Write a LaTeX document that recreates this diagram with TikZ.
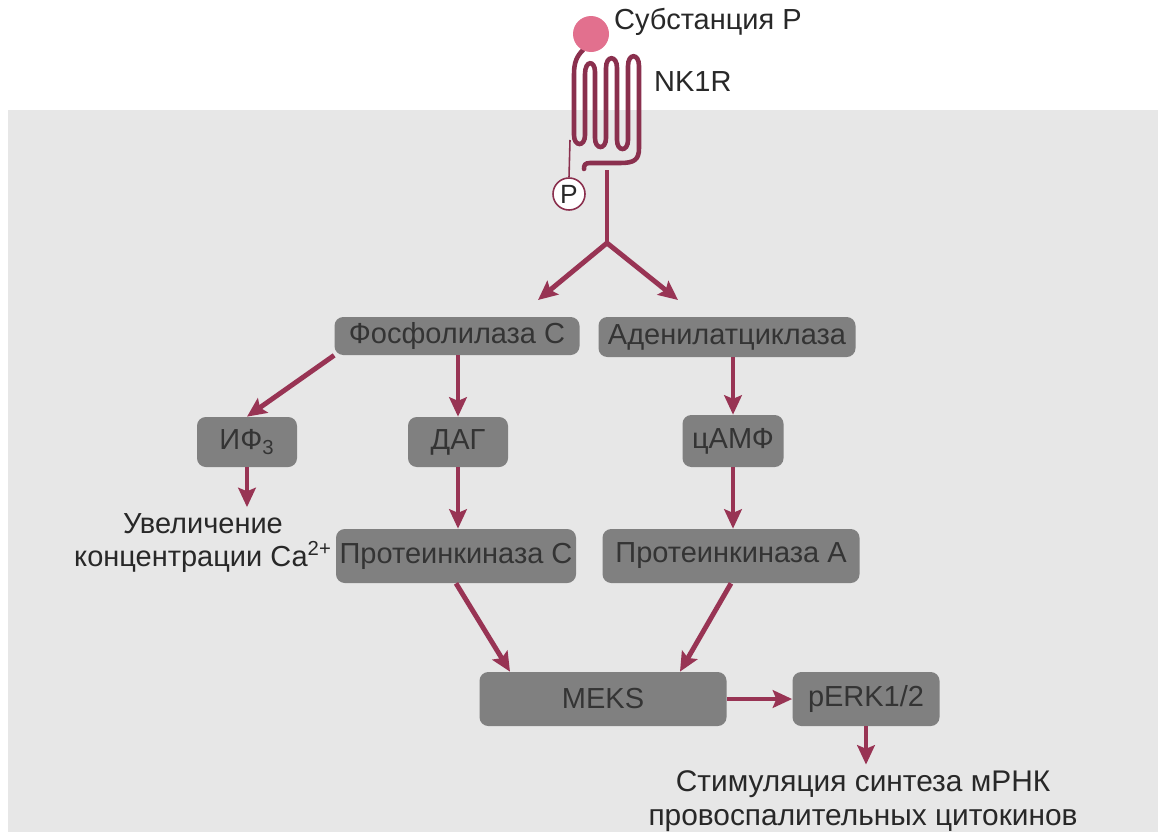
\documentclass[tikz,border=0pt]{standalone}
\usepackage{fontspec}
\setmainfont{Liberation Sans}
\usepackage{tikz}
\usetikzlibrary{arrows.meta, positioning, calc}
\definecolor{panelgray}{RGB}{231, 231, 231}
\definecolor{boxgray}{RGB}{128, 128, 128}
\definecolor{boxtext}{RGB}{52, 52, 52}
\definecolor{signalred}{RGB}{152, 52, 84}
\definecolor{receptorred}{RGB}{138, 48, 78}
\definecolor{ligandpink}{RGB}{226, 112, 142}
\definecolor{labeltext}{RGB}{40, 40, 40}

\begin{document}
\begin{tikzpicture}[x=0.02cm, y=-0.02cm,
    box/.style={fill=boxgray, text=boxtext, rounded corners=5pt, inner sep=0pt,
        font=\fontsize{16.5}{19}\selectfont},
    arr/.style={signalred, line width=2.8pt, -{Stealth[length=11pt, width=10pt, inset=2pt]}},
    lbl/.style={text=labeltext, align=center, font=\fontsize{17}{19}\selectfont}]
    \useasboundingbox (0,0) rectangle (1158,832);

    % Cytoplasm panel
    \fill[panelgray] (8,110) rectangle (1158,832);

    % NK1 receptor with seven membrane loops
    \draw[receptorred, line width=2.6pt, line cap=round]
        (583,50) .. controls (577,56) and (574,62) .. (574,74) -- (574,135)
        .. controls (574,147) and (585,147) .. (585,135) -- (585,74)
        .. controls (585,60) and (595,60) .. (595,72) -- (595,138)
        .. controls (595,150) and (606,150) .. (606,138) -- (606,68)
        .. controls (606,55) and (617,55) .. (617,68) -- (617,140)
        .. controls (617,152) and (628,152) .. (628,140) -- (628,66)
        .. controls (628,53) and (639,53) .. (639,66) -- (639,148)
        .. controls (639,160) and (634,163) .. (620,163) -- (590,163)
        .. controls (585,163) and (584,165) .. (584,169);
    \fill[ligandpink] (591,34) circle (18);
    \node[labeltext, anchor=west, font=\fontsize{16.5}{19}\selectfont] (sp) at (608,22) {Субстанция Р};
    \node[labeltext, anchor=west, font=\fontsize{16.5}{19}\selectfont] (nk1r) at (648,82) {NK1R};

    % Phosphorylation site
    \node[draw=receptorred, fill=white, circle, line width=0.9pt, minimum size=32*0.02cm, inner sep=0pt,
        text=labeltext, font=\fontsize{15}{17}\selectfont] (pho) at (569,194) {P};
    \coordinate (tm1) at (570,140);
    \draw[receptorred, line width=0.9pt] (tm1) -- (pho.north);

    % Signal split
    \coordinate (trunk) at (607,170);
    \coordinate (fork) at (607,243);
    \coordinate (left) at (538,300);
    \coordinate (right) at (678,300);
    \draw[signalred, line width=2.8pt] (trunk) -- (fork);
    \draw[arr] (fork) -- (left);
    \draw[arr] (fork) -- (right);

    % Enzymes and messengers
    \node[box, minimum width=245*0.02cm, minimum height=38*0.02cm] (plc) at (457,336) {Фосфолилаза С};
    \node[box, minimum width=257*0.02cm, minimum height=40*0.02cm] (ac) at (727,337) {Аденилатциклаза};
    \node[box, minimum width=100*0.02cm, minimum height=50*0.02cm] (ip3) at (247,442) {ИФ\textsubscript{3}};
    \node[box, minimum width=100*0.02cm, minimum height=50*0.02cm] (dag) at (458,442) {ДАГ};
    \node[box, minimum width=101*0.02cm, minimum height=52*0.02cm] (camp) at (733,441) {цАМФ};
    \node[box, minimum width=240*0.02cm, minimum height=54*0.02cm] (pkc) at (456,556) {Протеинкиназа С};
    \node[box, minimum width=257*0.02cm, minimum height=54*0.02cm] (pka) at (731,556) {Протеинкиназа А};
    \node[box, minimum width=247*0.02cm, minimum height=54*0.02cm] (meks) at (603,699) {MEKS};
    \node[box, minimum width=147*0.02cm, minimum height=54*0.02cm] (perk) at (866,699) {pERK1/2};

    % Outcomes
    \node[lbl, font=\fontsize{16.5}{19}\selectfont] (ca) at (203,543) {Увеличение\\концентрации Са\textsuperscript{2+}};
    \node[lbl] (stim) at (863,801) {Стимуляция синтеза мРНК\\провоспалительных цитокинов};

    % Cascade arrows
    \draw[arr] (plc.south west) -- (ip3.north);
    \draw[arr] (dag.north |- plc.south) -- (dag.north);
    \draw[arr] (camp.north |- ac.south) -- (camp.north);
    \draw[arr] (ip3.south) -- (ip3.south |- ca.north);
    \draw[arr] (dag.south) -- (dag.south |- pkc.north);
    \draw[arr] (camp.south) -- (camp.south |- pka.north);
    \draw[arr] (pkc.south) -- ($(meks.north)+(-93,0)$);
    \draw[arr] (pka.south) -- ($(meks.north)+(77,0)$);
    \draw[arr] (meks.east) -- (perk.west);
    \draw[arr] (perk.south) -- (perk.south |- stim.north);
\end{tikzpicture}
\end{document}
